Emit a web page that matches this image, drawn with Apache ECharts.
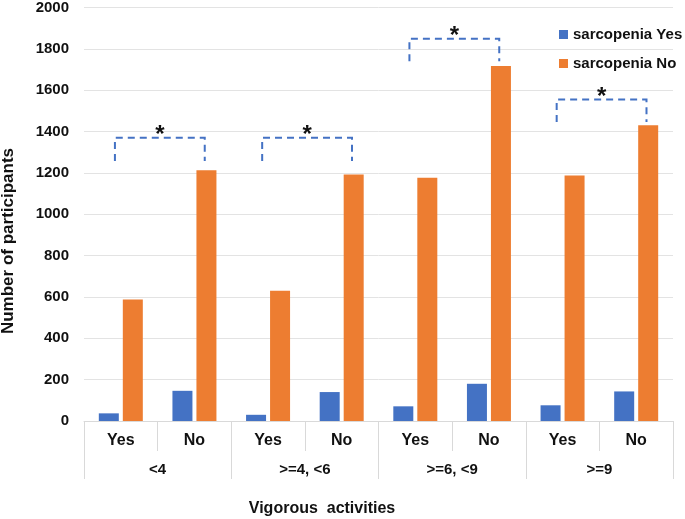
<!DOCTYPE html>
<html>
<head>
<meta charset="utf-8">
<script src="https://cdn.jsdelivr.net/npm/echarts@6/dist/echarts.min.js"></script>
<style>
  html, body { margin: 0; padding: 0; background: #fff; }
  #main { width: 685px; height: 519px; }
</style>
</head>
<body>
<div id="main"></div>
<script>
// categories
var answers = ['Yes', 'No', 'Yes', 'No', 'Yes', 'No', 'Yes', 'No'];
var groups = ['<4', '>=4, <6', '>=6, <9', '>=9'];
// series values
var sarcopeniaYes = [37, 146, 30, 140, 71, 180, 76, 143];
var sarcopeniaNo = [588, 1213, 630, 1192, 1177, 1717, 1187, 1431];
// significance brackets: [start index, end index, top, left foot, right foot]
var brackets = [
  [0, 1, 1370, 1258, 1258],
  [2, 3, 1370, 1258, 1258],
  [4, 5, 1849, 1740, 1740],
  [6, 7, 1555, 1446, 1446]
];
var yTicks = [0, 2000, 200];

var FONT = 'Liberation Sans, Arial, sans-serif';
var myChart = echarts.init(document.getElementById('main'));

var option = {
  backgroundColor: '#fff',
  animation: false,
  grid: { left: 84, right: 12, top: 6, bottom: 98 },
  legend: {
    data: ['sarcopenia Yes', 'sarcopenia No'],
    orient: 'vertical',
    left: 554,
    top: 22,
    itemWidth: 9,
    itemHeight: 9,
    itemGap: 14,
    icon: 'rect',
    textStyle: { fontFamily: FONT, fontSize: 15, fontWeight: 'bold', color: '#111' }
  },
  xAxis: [
    {
      type: 'category',
      data: answers,
      axisLine: { lineStyle: { color: '#d9d9d9', width: 1 } },
      axisTick: { show: true, length: 30, interval: 0, lineStyle: { color: '#d9d9d9' } },
      axisLabel: { interval: 0, margin: 12, fontFamily: FONT, fontSize: 16, fontWeight: 'bold', color: '#111' }
    },
    {
      type: 'category',
      position: 'bottom',
      data: groups,
      axisLine: { show: false },
      axisTick: { show: true, length: 58, interval: 0, lineStyle: { color: '#d9d9d9' } },
      axisLabel: { interval: 0, margin: 41, fontFamily: FONT, fontSize: 15, fontWeight: 'bold', color: '#111' }
    }
  ],
  yAxis: {
    type: 'value',
    min: yTicks[0],
    max: yTicks[1],
    interval: yTicks[2],
    axisLine: { show: false },
    axisTick: { show: false },
    splitLine: { lineStyle: { color: '#e3e3e3', width: 1 } },
    axisLabel: {
      margin: 15,
      fontFamily: FONT,
      fontSize: 15,
      fontWeight: 'bold',
      color: '#111',
      formatter: function (v) { return String(v); }
    }
  },
  graphic: [
    {
      type: 'text',
      x: 8,
      y: 241,
      rotation: Math.PI / 2,
      style: {
        text: 'Number of participants',
        textAlign: 'center',
        textVerticalAlign: 'middle',
        fontFamily: FONT,
        fontSize: 17,
        fontWeight: 'bold',
        fill: '#111'
      }
    },
    {
      type: 'text',
      x: 322,
      y: 509,
      style: {
        text: 'Vigorous  activities',
        textAlign: 'center',
        textVerticalAlign: 'middle',
        fontFamily: FONT,
        fontSize: 16,
        fontWeight: 'bold',
        fill: '#111'
      }
    }
  ],
  series: [
    {
      name: 'sarcopenia Yes',
      type: 'bar',
      data: sarcopeniaYes,
      barWidth: 20,
      barGap: '20%',
      itemStyle: { color: '#4472C4' }
    },
    {
      name: 'sarcopenia No',
      type: 'bar',
      data: sarcopeniaNo,
      barWidth: 20,
      barGap: '20%',
      itemStyle: { color: '#ED7D31' }
    },
    {
      name: 'significance',
      type: 'custom',
      data: brackets,
      encode: { x: 0, y: 2 },
      z: 5,
      renderItem: function (params, api) {
        var band = api.size([1, 0])[0];
        var s = api.coord([api.value(0), api.value(2)]);
        var e = api.coord([api.value(1), api.value(2)]);
        var yl = api.coord([api.value(0), api.value(3)])[1];
        var yr = api.coord([api.value(1), api.value(4)])[1];
        var x1 = s[0] - 0.08 * band;
        var x2 = e[0] + 0.14 * band;
        var yt = s[1];
        return {
          type: 'group',
          children: [
            {
              type: 'polyline',
              shape: { points: [[x1, yl], [x1, yt], [x2, yt], [x2, yr]] },
              style: { stroke: '#4472C4', lineWidth: 2, lineDash: [7, 5], fill: null }
            },
            {
              type: 'text',
              x: (x1 + x2) / 2,
              y: yt - 2,
              style: {
                text: '*',
                textAlign: 'center',
                textVerticalAlign: 'middle',
                fontFamily: FONT,
                fontSize: 24,
                fontWeight: 'bold',
                fill: '#111'
              }
            }
          ]
        };
      }
    }
  ]
};

myChart.setOption(option);
window.addEventListener('resize', function () {
  myChart.resize();
});
</script>
</body>
</html>
